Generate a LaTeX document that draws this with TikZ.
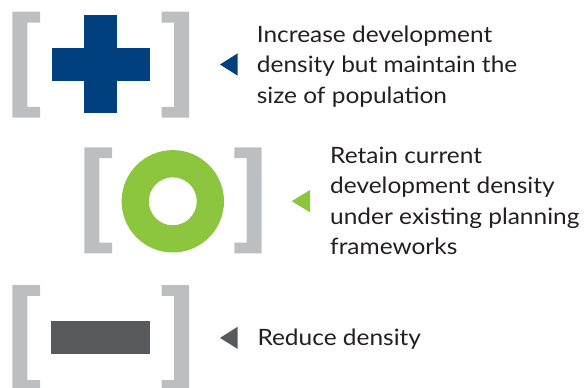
\documentclass[tikz,border=0pt]{standalone}
\usepackage{fontspec}
\setmainfont{Lato}[FakeStretch=1.087]
\definecolor{brkgray}{HTML}{BCBEC0}
\definecolor{plusblue}{HTML}{00407F}
\definecolor{ringgreen}{HTML}{8CC63F}
\definecolor{bardark}{HTML}{58595B}
\definecolor{txt}{HTML}{231F20}
\begin{document}
\begin{tikzpicture}[x=1pt,y=-1pt,
  brk/.style={fill=brkgray},
  lbk/.pic={\fill[brk] (0,0) -- (27.7,0) -- (27.7,10.8) -- (15,10.8) -- (15,95.2) -- (27.7,95.2) -- (27.7,106) -- (0,106) -- cycle;},
  rbk/.pic={\fill[brk] (0,0) -- (-27.3,0) -- (-27.3,10.8) -- (-15,10.8) -- (-15,95.2) -- (-27.3,95.2) -- (-27.3,106) -- (0,106) -- cycle;},
  label/.style={anchor=base west, align=left, inner sep=0pt, text=txt, font=\fontsize{22.5}{30.5}\selectfont}
]
\useasboundingbox (0,0) rectangle (584,388);
\clip (0,0) rectangle (584,388);
% group 1
\pic at (12.3,11.7) {lbk};
\pic at (189,11.7) {rbk};
\fill[plusblue] (84.3,15) rectangle (117.3,113);
\fill[plusblue] (51.7,47.7) rectangle (150,81);
\fill[plusblue] (237.7,53.3) -- (237.7,75.7) -- (220,64.5) -- cycle;
\node[label] (t1) at (256.7,103.3) {Increase development\\density but maintain the\\size of population};
% group 2
\pic at (84.3,147.3) {lbk};
\pic at (261.7,147.3) {rbk};
\fill[ringgreen, even odd rule] (172.8,201.3) circle[radius=51.2] (172.8,201.3) circle[radius=24];
\fill[ringgreen] (310,190) -- (310,212.3) -- (291.7,201.2) -- cycle;
\node[label] (t2) at (330,254.8) {Retain current\\development density\\under existing planning\\frameworks};
% group 3
\pic at (12.3,285) {lbk};
\pic at (189,285) {rbk};
\fill[bardark] (50.7,321) rectangle (150,354);
\fill[bardark] (237.7,326.7) -- (237.7,349) -- (220,337.9) -- cycle;
\node[label] (t3) at (257.3,345.7) {Reduce density};
\end{tikzpicture}
\end{document}
